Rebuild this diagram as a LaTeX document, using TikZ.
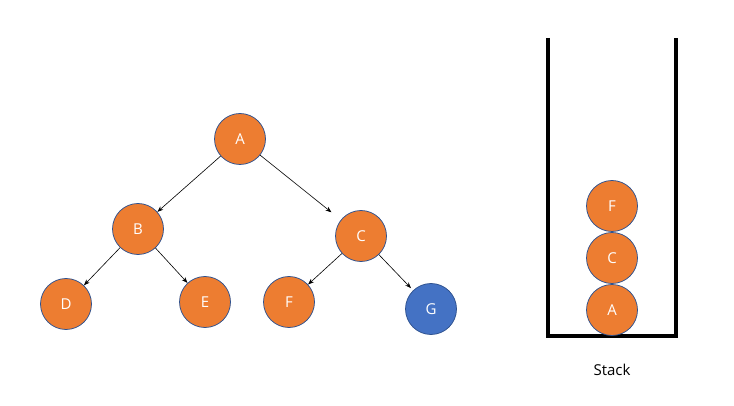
\documentclass[tikz,border=0pt]{standalone}
\usepackage{fontspec}
\setmainfont{Open Sans}
\usepackage{tikz}
\usetikzlibrary{arrows.meta}

\definecolor{nodeorange}{HTML}{ED7D31}
\definecolor{nodeblue}{HTML}{4472C4}
\definecolor{rimblue}{HTML}{2F528F}

\tikzset{
  treenode/.style={circle, minimum size=51pt, inner sep=0pt, fill=nodeorange,
    draw=rimblue, line width=0.75pt, text=white, font=\fontsize{15}{17}\selectfont},
  visitnode/.style={treenode, fill=nodeblue},
  edge/.style={-{Stealth[length=6pt,width=4.5pt]}, line width=0.6pt},
  wall/.style={line width=4pt}
}

\begin{document}
\begin{tikzpicture}[x=1pt,y=-1pt]
\useasboundingbox (0,0) rectangle (734,406);
% tree
\node[treenode] (A) at (240,139) {A};
\node[treenode] (B) at (138,229) {B};
\node[treenode] (C) at (361,236) {C};
\node[treenode] (D) at (66,304) {D};
\node[treenode] (E) at (205,302) {E};
\node[treenode] (F) at (289,302) {F};
\node[visitnode] (G) at (431,309) {G};
\draw[edge] (A) -- (B);
\draw[edge, shorten >=12pt] (A) -- (C);
\draw[edge] (B) -- (D);
\draw[edge] (B) -- (E);
\draw[edge] (C) -- (F);
\draw[edge, shorten >=3pt] (C) -- (G);
% stack
\coordinate (tl) at (548,38);
\coordinate (tr) at (676,38);
\draw[wall] (tl) -- (548,336) -- (676,336) -- (tr);
\node[treenode] (sA) at (612,310) {A};
\node[treenode] (sC) at (612,258) {C};
\node[treenode] (sF) at (612,206) {F};
\node[font=\fontsize{15}{17}\selectfont] (stack) at (612,370) {Stack};
\end{tikzpicture}
\end{document}
